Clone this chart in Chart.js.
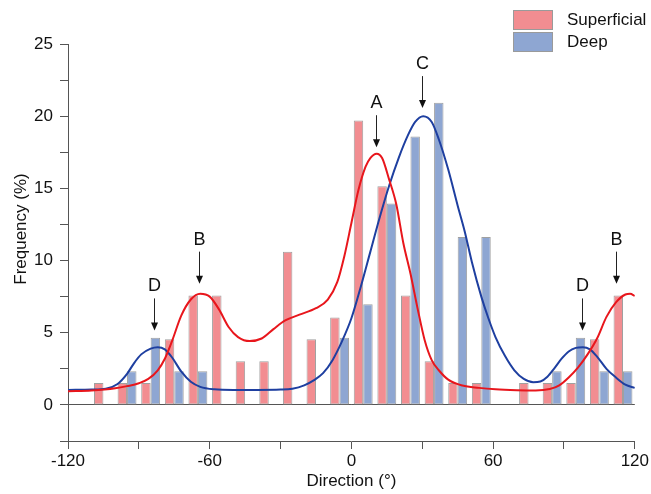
<!DOCTYPE html>
<html>
<head>
<meta charset="utf-8">
<script src="https://cdn.jsdelivr.net/npm/chart.js@4/dist/chart.umd.min.js"></script>
<style>
  html, body { margin: 0; padding: 0; background: #fff; }
  #wrap { width: 651px; height: 494px; position: relative; }
</style>
</head>
<body>
<div id="wrap"><canvas id="dirChart"></canvas></div>
<script>
// Histogram bins (direction, degrees)
const binCenters = [-115, -105, -95, -85, -75, -65, -55, -45, -35, -25, -15, -5,
                    5, 15, 25, 35, 45, 55, 65, 75, 85, 95, 105, 115];
const superficial = [null, 1.52, 1.52, 1.52, 4.55, 7.58, 7.58, 3.03, 3.03, 10.61, 4.55, 6.06,
                     19.70, 15.15, 7.58, 3.03, 1.52, 1.52, null, 1.52, 1.52, 1.52, 4.55, 7.58];
const deep = [null, null, 2.33, 4.65, 2.33, 2.33, null, null, null, null, null, 4.65,
              6.98, 13.95, 18.60, 20.93, 11.63, 11.63, null, null, 2.33, 4.65, 2.33, 2.33];

// Fitted curves
const supFitX = [-120, -110, -100, -95, -90, -86, -82, -79, -76, -72, -68, -64, -60, -56, -52, -48, -43, -38, -33,
                 -28, -22, -15, -10, -6, -3, 0, 3, 6, 8, 10.7, 13, 16, 19, 22, 25, 28, 31, 34, 37, 41, 47, 54, 61, 70,
                 78, 84, 88, 92, 96, 100, 104, 108, 112, 116, 118, 120];
const supFitY = [0.95, 1.0, 1.15, 1.3, 1.5, 1.8, 2.4, 3.2, 4.4, 6.2, 7.3, 7.7, 7.5, 6.6, 5.4, 4.7, 4.42, 4.6, 5.25,
                 5.85, 6.25, 6.7, 7.3, 8.5, 10.3, 12.6, 14.9, 16.5, 17.1, 17.4, 17.1, 15.6, 13.9, 11.2, 9.1, 6.7, 4.5,
                 3.1, 2.4, 1.75, 1.34, 1.18, 1.08, 1.02, 1.0, 1.1, 1.35, 1.9, 2.6, 3.5, 4.6, 6.1, 7.1, 7.65, 7.7, 7.55];
const deepFitX = [-120, -110, -104, -99, -95, -92, -89, -85, -82, -79, -76, -72, -68, -64, -58, -50, -40, -30, -25,
                  -20, -16, -12, -8, -4, 0, 4, 8, 12, 16, 20, 24, 27, 30.4, 34, 37, 41, 45, 48, 51, 55, 58, 61, 65,
                  69, 73, 77, 80, 83, 86, 89, 92, 95, 98, 101, 104, 108, 112, 116, 120];
const deepFitY = [1.04, 1.06, 1.12, 1.45, 2.15, 2.9, 3.5, 3.9, 4.0, 3.85, 3.3, 2.3, 1.6, 1.25, 1.08, 1.04, 1.04, 1.06,
                  1.12, 1.35, 1.7, 2.2, 3.1, 4.4, 6.0, 8.2, 10.6, 13.0, 15.2, 17.1, 18.7, 19.6, 20.0, 19.6, 18.4, 16.3,
                  13.8, 12.0, 9.9, 7.5, 6.0, 4.7, 3.4, 2.4, 1.8, 1.57, 1.62, 1.95, 2.55, 3.2, 3.7, 3.95, 4.0, 3.85,
                  3.35, 2.5, 1.9, 1.4, 1.18];

// Peak markers
const peakLabels = ['D', 'B', 'A', 'C', 'D', 'B'];
const peakX = [-83.5, -64.4, 10.4, 29.7, 97.6, 112];
const peakTip = [5.16, 8.4, 17.85, 20.56, 5.16, 8.4];

const seriesNames = ['Superficial', 'Deep'];
const seriesColors = ['#F28D91', '#8EA6D2'];
const xTicks = [-120, -60, 0, 60, 120];

const FONT = "'Liberation Sans', Arial, sans-serif";
const AXIS = '#555555';

const toPoints = (xs, ys) => xs.map((x, i) => ({ x: x, y: ys[i] }));

const decor = {
  id: 'decor',
  afterDatasetsDraw(chart) {
    const { ctx, scales: { x, y } } = chart;
    ctx.save();
    // arrows + letters
    ctx.strokeStyle = '#222';
    ctx.fillStyle = '#111';
    ctx.lineWidth = 1;
    ctx.font = '18px ' + FONT;
    ctx.textAlign = 'center';
    ctx.textBaseline = 'middle';
    peakLabels.forEach((t, i) => {
      const px = Math.round(x.getPixelForValue(peakX[i])) + 0.5;
      const py = y.getPixelForValue(peakTip[i]);
      ctx.beginPath();
      ctx.moveTo(px, py - 32);
      ctx.lineTo(px, py - 6);
      ctx.stroke();
      ctx.beginPath();
      ctx.moveTo(px, py);
      ctx.lineTo(px - 3.5, py - 8);
      ctx.lineTo(px + 3.5, py - 8);
      ctx.closePath();
      ctx.fill();
      ctx.fillText(t, px, py - 44);
    });

    // legend
    ctx.font = '17px ' + FONT;
    ctx.textAlign = 'left';
    seriesNames.forEach((name, i) => {
      const top = 10 + i * 22;
      ctx.fillStyle = seriesColors[i];
      ctx.fillRect(513, top, 40, 20);
      ctx.strokeStyle = '#9a9a9a';
      ctx.strokeRect(513.5, top + 0.5, 39, 19);
      ctx.fillStyle = '#111';
      ctx.fillText(name, 567, top + 10);
    });

    // y axis title
    ctx.translate(21, 229);
    ctx.rotate(-Math.PI / 2);
    ctx.textAlign = 'center';
    ctx.fillText('Frequency (%)', 0, 0);
    ctx.restore();
  }
};

new Chart(document.getElementById('dirChart'), {
  type: 'bar',
  data: {
    datasets: [
      {
        type: 'line',
        label: 'Superficial fit',
        data: toPoints(supFitX, supFitY),
        borderColor: '#E8161C',
        borderWidth: 2,
        pointRadius: 0,
        fill: false,
        cubicInterpolationMode: 'monotone',
        order: 0
      },
      {
        type: 'line',
        label: 'Deep fit',
        data: toPoints(deepFitX, deepFitY),
        borderColor: '#1E3FA0',
        borderWidth: 2,
        pointRadius: 0,
        fill: false,
        cubicInterpolationMode: 'monotone',
        order: 0
      },
      {
        label: seriesNames[0],
        data: toPoints(binCenters, superficial),
        backgroundColor: seriesColors[0],
        borderColor: '#a0a0a0',
        borderWidth: 1,
        borderSkipped: false,
        categoryPercentage: 0.8,
        barPercentage: 1.0,
        order: 1
      },
      {
        label: seriesNames[1],
        data: toPoints(binCenters, deep),
        backgroundColor: seriesColors[1],
        borderColor: '#a0a0a0',
        borderWidth: 1,
        borderSkipped: false,
        categoryPercentage: 0.8,
        barPercentage: 1.0,
        order: 1
      }
    ]
  },
  options: {
    responsive: true,
    maintainAspectRatio: false,
    animation: false,
    layout: { padding: { top: 44, right: 14.5, left: 0, bottom: 0 } },
    plugins: {
      legend: { display: false },
      tooltip: { enabled: false }
    },
    scales: {
      x: {
        type: 'linear',
        min: -120,
        max: 120,
        offset: false,
        afterFit: (s) => { s.height = 53; },
        grid: { offset: false, drawOnChartArea: false, tickColor: AXIS, tickLength: 8 },
        border: { color: AXIS, width: 1 },
        ticks: {
          stepSize: 30,
          padding: 2,
          color: '#111',
          font: { family: FONT, size: 17 },
          maxRotation: 0,
          autoSkip: false,
          callback: (v) => (xTicks.includes(v) ? v : '')
        },
        title: {
          display: true,
          text: 'Direction (°)',
          color: '#111',
          font: { family: FONT, size: 17 },
          padding: { top: 0, bottom: 2 }
        }
      },
      y: {
        min: -2.5,
        max: 25,
        afterFit: (s) => { s.width = 68; },
        grid: {
          color: (c) => (c.tick && c.tick.value === 0 ? AXIS : 'rgba(0,0,0,0)'),
          tickColor: AXIS,
          tickLength: 8
        },
        border: { color: AXIS, width: 1 },
        ticks: {
          stepSize: 2.5,
          padding: 7,
          color: '#111',
          font: { family: FONT, size: 17 },
          autoSkip: false,
          callback: (v) => (v >= 0 && v % 5 === 0 ? v : '')
        }
      }
    }
  },
  plugins: [decor]
});
</script>
</body>
</html>
